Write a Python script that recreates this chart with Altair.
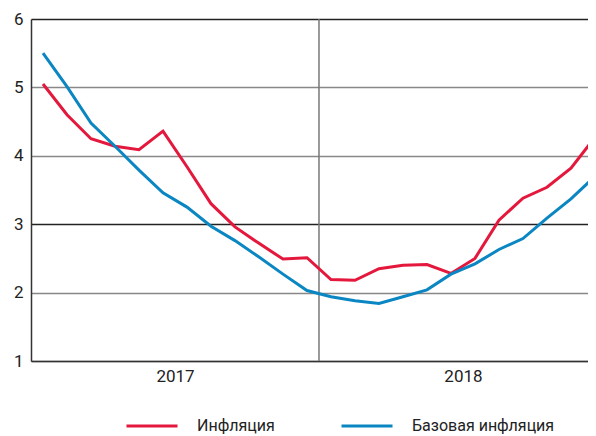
import altair as alt
import pandas as pd

# Monthly data, Jan 2017 .. Dec 2018 (index 0..23)
month_index = list(range(24))
inflation = [5.05, 4.60, 4.25, 4.14, 4.09, 4.36, 3.84, 3.30, 2.96, 2.72, 2.49, 2.51,
             2.19, 2.18, 2.35, 2.40, 2.41, 2.28, 2.50, 3.06, 3.38, 3.54, 3.82, 4.27]
core_inflation = [5.50, 5.01, 4.48, 4.14, 3.79, 3.46, 3.25, 2.97, 2.76, 2.52, 2.27, 2.03,
                  1.94, 1.88, 1.84, 1.94, 2.04, 2.27, 2.42, 2.63, 2.79, 3.09, 3.37, 3.70]
series_names = ["Инфляция", "Базовая инфляция"]
series_colors = ["#E4183C", "#0A86C2"]
year_labels = ["2017", "2018"]
year_label_pos = [5.5, 17.5]
year_divider = [11.5]
y_ticks = [1, 2, 3, 4, 5, 6]

FONT = "Roboto, 'Liberation Sans', sans-serif"

df = pd.DataFrame({
    "m": month_index * 2,
    "value": inflation + core_inflation,
    "series": [series_names[0]] * 24 + [series_names[1]] * 24,
    "order": [0] * 24 + [1] * 24,
})

x_scale = alt.Scale(domain=[-0.5, 22.71], nice=False, zero=False)
y_scale = alt.Scale(domain=[1, 6], nice=False, zero=False)

lines = alt.Chart(df).mark_line(strokeWidth=3, clip=True).encode(
    x=alt.X("m:Q", scale=x_scale, axis=alt.Axis(
        values=year_label_pos,
        labelExpr="datum.value < 11.5 ? '" + year_labels[0] + "' : '" + year_labels[1] + "'",
        title=None, ticks=False, grid=False, domainColor="#333", domainWidth=1.5,
        labelFont=FONT, labelFontSize=17, labelColor="#222", labelPadding=7,
    )),
    y=alt.Y("value:Q", scale=y_scale, axis=alt.Axis(
        values=y_ticks, title=None, ticks=False, grid=True,
        gridColor={"condition": {"test": "datum.value == 3 || datum.value == 6", "value": "#222"}, "value": "#888"},
        gridWidth=1.3,
        domainColor="#333", domainWidth=1.5,
        labelFont=FONT, labelFontSize=17, labelColor="#222", labelPadding=8,
    )),
    color=alt.Color("series:N", scale=alt.Scale(domain=series_names, range=series_colors),
                    legend=alt.Legend(
                        title=None, orient="none", legendX=94, legendY=380,
                        direction="horizontal", symbolType="stroke", symbolSize=2601,
                        symbolStrokeWidth=3, labelOffset=18, columnPadding=60,
                        labelFont=FONT, labelFontSize=16, labelColor="#222", padding=0,
                    )),
    order="order:Q",
    detail="series:N",
)

divider = alt.Chart(pd.DataFrame({"x": year_divider})).mark_rule(
    color="#777", strokeWidth=1.5
).encode(x=alt.X("x:Q", scale=x_scale))

chart = alt.layer(divider, lines).properties(
    width=557, height=342,
    autosize=alt.AutoSizeParams(type="none"),
    padding={"left": 23, "top": 11, "right": 0, "bottom": 75},
).configure_view(stroke=None).configure(background="white")

chart.save("out.html", embed_options={"renderer": "svg", "actions": False})
